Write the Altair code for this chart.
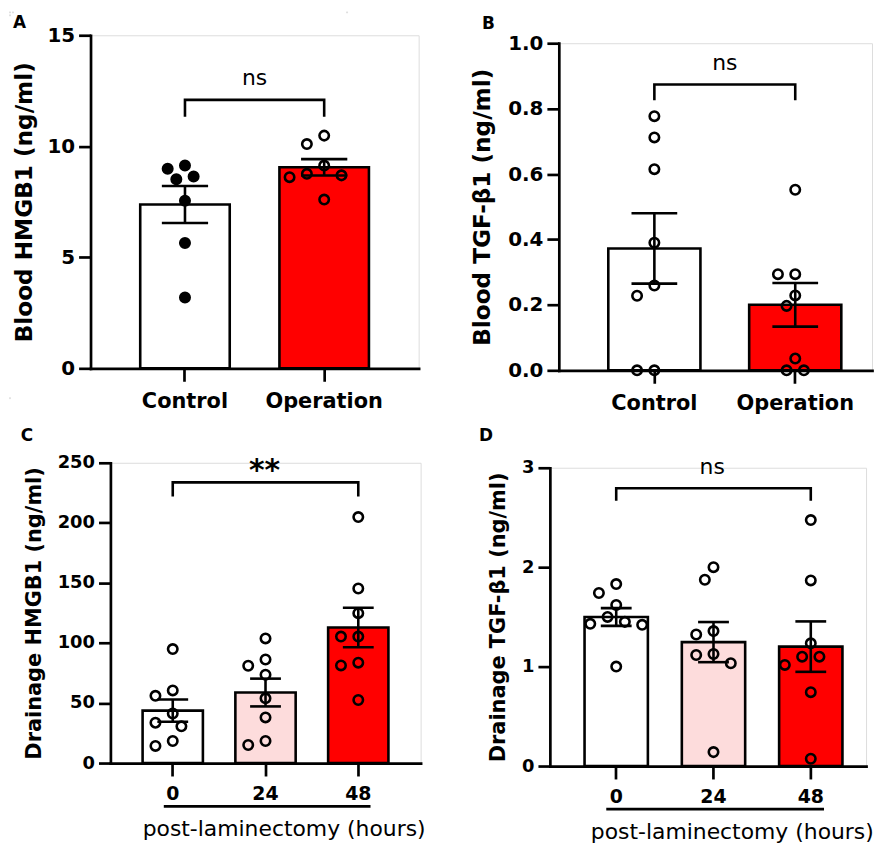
import altair as alt
import numpy as np
import pandas as pd

FONT = "DejaVu Sans"

# ---------------- data ----------------
# Panel A : Blood HMGB1 (ng/ml)
a_groups = ["Control", "Operation"]
a_control = [8.99, 9.13, 8.64, 8.51, 7.55, 5.64, 3.19]
a_operation = [10.10, 10.48, 9.13, 8.69, 8.61, 8.76, 7.60]

# Panel B : Blood TGF-b1 (ng/ml)
b_groups = ["Control", "Operation"]
b_control = [0.777, 0.712, 0.615, 0.390, 0.259, 0.228, 0.0, 0.0]
b_operation = [0.552, 0.294, 0.294, 0.229, 0.197, 0.036, 0.0, 0.0]

# Panel C : Drainage HMGB1 (ng/ml), hours post-laminectomy
c_groups = ["0", "24", "48"]
c_h0 = [94.9, 60.5, 56.0, 41.2, 33.6, 30.6, 18.4, 14.3]
c_h24 = [103.8, 86.2, 81.0, 73.5, 53.9, 38.0, 18.4, 15.0]
c_h48 = [204.8, 145.3, 124.8, 105.3, 105.3, 83.6, 81.3, 52.5]

# Panel D : Drainage TGF-b1 (ng/ml), hours post-laminectomy
d_groups = ["0", "24", "48"]
d_h0 = [1.83, 1.74, 1.62, 1.50, 1.43, 1.42, 1.45, 1.0]
d_h24 = [2.0, 1.874, 1.357, 1.323, 1.127, 1.117, 1.034, 0.14]
d_h48 = [2.474, 1.867, 1.234, 1.10, 1.10, 1.017, 0.743, 0.073]

WHITE, PINK, RED = "#ffffff", "#fddcdc", "#ff0000"


def swarm_offsets(values, px_per_unit, diam=13.5, step=8.7):
    """Simple beeswarm: horizontal pixel offsets so that circles do not overlap."""
    vals = np.asarray(values, dtype=float)
    order = np.argsort(-vals, kind="stable")
    cands = [0.0]
    for k in range(1, 15):
        cands += [-k * step, k * step]
    placed = []
    out = np.zeros(len(vals))
    for i in order:
        y = vals[i] * px_per_unit
        for c in cands:
            if all((c - px) ** 2 + (y - py) ** 2 >= diam ** 2 - 1e-9 for py, px in placed):
                out[i] = c
                placed.append((y, c))
                break
    return out


def make_panel(groups, series, colors, W, H, ymax, yticks, yfmt, ytitle, ytitle_x,
               pin, pout, palign, xlab, ylab, tsize, cap, box, letter, letter_pos,
               bracket, sig, filled=None, xtitle=None, underline=None):
    n = len(groups)
    step = W / (n - pin + 2 * pout)
    bw = step * (1 - pin)
    ppu = H / ymax
    rows = []
    for g, vals in zip(groups, series):
        offs = swarm_offsets(vals, ppu)
        for v, o in zip(vals, offs):
            rows.append({"group": g, "value": v, "dx": o + bw / 2})
    df = pd.DataFrame(rows)

    xscale = alt.Scale(domain=groups, paddingInner=pin, paddingOuter=pout, align=palign)
    yscale = alt.Scale(domain=[0, ymax], nice=False, zero=True)

    yaxis = alt.Axis(values=yticks, format=yfmt, title=ytitle, grid=False,
                     domainColor="black", domainWidth=2.7, domainCap="square",
                     tickColor="black", tickWidth=2.7, tickSize=12,
                     labelFont=FONT, labelFontWeight="bold", labelFontSize=ylab,
                     labelColor="black", labelPadding=4, labelFlush=False,
                     titleFont=FONT, titleFontWeight="bold", titleFontSize=tsize,
                     titleColor="black", titleX=ytitle_x, titleBaseline="middle",
                     titleAngle=270)
    xkw = dict(grid=False, domainColor="black", domainWidth=2.7, domainCap="square",
               tickColor="black", tickWidth=2.7, tickSize=13, labelAngle=0,
               labelFont=FONT, labelFontWeight="bold", labelFontSize=xlab,
               labelColor="black", labelPadding=9)
    if xtitle:
        xkw.update(title=xtitle[0], titleX=xtitle[1], titleY=xtitle[2], titleFont=FONT,
                   titleFontWeight="normal", titleFontSize=22, titleColor="black",
                   titleBaseline="alphabetic", titleAlign="center")
    else:
        xkw.update(title=None)
    xaxis = alt.Axis(**xkw)

    def X(f="group"):
        return alt.X(f"{f}:N", scale=xscale, axis=xaxis)

    def Y(f):
        return alt.Y(f, scale=yscale, axis=yaxis)

    one = pd.DataFrame({"k": [0]})

    # invisible rule that fixes the layout extent of the panel
    box_l = alt.Chart(one).mark_rule(opacity=0, strokeOpacity=0).encode(
        x=alt.value(box[0]), x2=alt.value(box[1]), y=alt.value(box[2]), y2=alt.value(box[3]))

    bars = alt.Chart(df).mark_bar(stroke="black", strokeWidth=2.6, opacity=1).encode(
        x=X(), y=Y("mean(value):Q"),
        fill=alt.Fill("group:N", scale=alt.Scale(domain=groups, range=colors), legend=None))

    if filled:
        pfill = alt.condition(alt.FieldOneOfPredicate(field="group", oneOf=filled),
                              alt.value("black"), alt.value("transparent"))
    else:
        pfill = alt.value("transparent")
    pts = alt.Chart(df).mark_point(shape="circle", size=90, strokeWidth=2.6, stroke="black",
                                   opacity=1, filled=True).encode(
        x=X(), xOffset=alt.XOffset("dx:Q", scale=None), y=Y("value:Q"), fill=pfill)

    err = alt.Chart(df).transform_aggregate(
        m="mean(value)", se="stderr(value)", groupby=["group"]
    ).transform_calculate(lo="datum.m - datum.se", hi="datum.m + datum.se")
    err_rule = err.mark_rule(color="black", strokeWidth=2.6).encode(
        x=X(), y=Y("lo:Q"), y2=alt.Y2("hi:Q"))
    cap_hi = err.mark_tick(color="black", thickness=2.6, size=cap, opacity=1).encode(
        x=X(), y=Y("hi:Q"))
    cap_lo = err.mark_tick(color="black", thickness=2.6, size=cap, opacity=1).encode(
        x=X(), y=Y("lo:Q"))

    g1, g2, top, leg = bracket
    br = pd.DataFrame({"group": [g1, g1, g2, g2], "value": [leg, top, top, leg],
                       "ord": [0, 1, 2, 3]})
    bracket_l = alt.Chart(br).mark_line(color="black", strokeWidth=2.6).encode(
        x=X(), y=Y("value:Q"), order="ord:Q")

    sg, sv, stext, ssize, sweight, sdx = sig
    sdf = pd.DataFrame({"group": [sg], "value": [sv], "label": [stext]})
    sig_l = alt.Chart(sdf).mark_text(font=FONT, fontSize=ssize, fontWeight=sweight,
                                     color="black", align="center", baseline="alphabetic",
                                     dx=sdx).encode(x=X(), y=Y("value:Q"), text="label:N")

    letter_l = alt.Chart(one).mark_text(text=letter, font=FONT, fontSize=17,
                                        fontWeight="bold", color="black", align="left",
                                        baseline="alphabetic").encode(
        x=alt.value(letter_pos[0]), y=alt.value(letter_pos[1]))

    layers = [box_l, bars, pts, err_rule, cap_hi, cap_lo, bracket_l, sig_l, letter_l]
    if underline:
        u1, u2, ux1, ux2, uy = underline
        udf = pd.DataFrame({"group": [u1], "group2": [u2]})
        layers.append(alt.Chart(udf).mark_rule(color="black", strokeWidth=2.6,
                                               xOffset=ux1, x2Offset=ux2).encode(
            x=X(), x2=alt.X2("group2"), y=alt.value(uy)))
    return alt.layer(*layers).properties(width=W, height=H)


pA = make_panel(a_groups, [a_control, a_operation], [WHITE, RED], 330, 335, 15,
                [0, 5, 10, 15], "d", "Blood HMGB1 (ng/ml)", -66.8,
                0.357, 0.357, 0.5, 21, 20, 23.3, 46.5,
                (-79, 334, -21, 383), "A", (-78, -7),
                ("Control", "Operation", 12.09, 11.33),
                ("Control", 12.76, "ns", 22, "normal", 70), filled=["Control"])

pB = make_panel(b_groups, [b_control, b_operation], [WHITE, RED], 315, 329, 1.0,
                [0, 0.2, 0.4, 0.6, 0.8, 1.0], ".1f", "Blood TGF-β1 (ng/ml)", -76.3,
                0.346, 0.2846, 0.617, 21, 20, 23.3, 46,
                (-135, 317, -29, 375), "B", (-77.3, -14.7),
                ("Control", "Operation", 0.874, 0.826),
                ("Control", 0.917, "ns", 22, "normal", 70.85))

pC = make_panel(c_groups, [c_h0, c_h24, c_h48], [WHITE, PINK, RED], 312, 302, 250,
                [0, 50, 100, 150, 200, 250], "d", "Drainage HMGB1 (ng/ml)", -76.6,
                0.35, 0.347, 0.5, 19, 18, 21, 31,
                (-99, 322, -45, 381), "C", (-90.3, -21.7),
                ("0", "48", 233.7, 222.0),
                ("24", 235.7, "**", 30, "bold", -1),
                xtitle=("post-laminectomy (hours)", 174.2, 73),
                underline=("0", "48", -9, 12.3, 345.6))

pD = make_panel(d_groups, [d_h0, d_h24, d_h48], [WHITE, PINK, RED], 318, 300, 3,
                [0, 1, 2, 3], "d", "Drainage TGF-β1 (ng/ml)", -51.6,
                0.349, 0.2995, 0.595, 19, 18, 21, 31,
                (-106, 326, -42, 376), "D", (-71.3, -26.7),
                ("0", "48", 2.794, 2.667),
                ("24", 2.94, "ns", 22, "normal", -1.3),
                xtitle=("post-laminectomy (hours)", 183, 72.5),
                underline=("0", "48", -10, 13.3, 343.3))


def spacer():
    # empty cell (no data rows) used only to keep the grid cells free of alignment
    empty = pd.DataFrame({"k": pd.Series([], dtype=float)})
    return alt.Chart(empty).mark_point(opacity=0).encode(
        x=alt.value(0), y=alt.value(0)).properties(width=1, height=1)


chart = alt.concat(spacer(), spacer(), spacer(),
                   spacer(), pA, pB,
                   spacer(), pC, pD,
                   columns=3, spacing=0, align="none", bounds="full"
                   ).resolve_scale(fill="independent").properties(padding=0
                   ).configure_view(stroke="transparent", strokeWidth=0).configure(font=FONT)

chart.save("out.html", embed_options={"renderer": "svg", "actions": False})
